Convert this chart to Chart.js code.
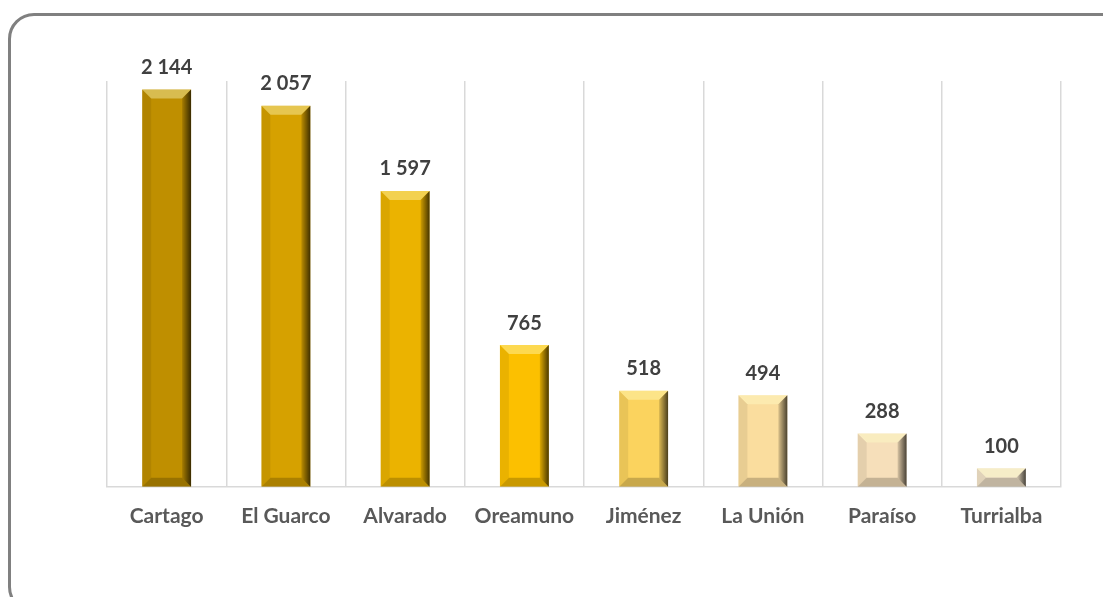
<!DOCTYPE html>
<html>
<head>
<meta charset="utf-8">
<script src="https://cdn.jsdelivr.net/npm/chart.js@4"></script>
<style>
  html, body { margin: 0; padding: 0; background: #fff; }
  #wrap { position: relative; width: 1103px; height: 597px; overflow: hidden; }
  #frame {
    position: absolute; left: 8px; top: 13px; width: 1120px; height: 600px;
    border: 3.5px solid #808080; border-radius: 26px; box-sizing: border-box;
  }
  canvas { position: absolute; left: 0; top: 0; }
</style>
</head>
<body>
<div id="wrap">
  <div id="frame"></div>
  <canvas id="chart" width="1103" height="597"></canvas>
</div>
<script>
// Cantones and counts
const cantones = ["Cartago", "El Guarco", "Alvarado", "Oreamuno", "Jiménez", "La Unión", "Paraíso", "Turrialba"];
const valores = [2144, 2057, 1597, 765, 518, 494, 288, 100];
const colores = ["#BF8F00", "#D6A100", "#EBB300", "#FCC000", "#FBD35E", "#FADD9E", "#F6DFBA", "#F1E2C8"];

// thousands with a space, like "2 144"
function formato(n) {
  return String(n).replace(/\B(?=(\d{3})+(?!\d))/g, " ");
}

// beveled look of the bars + value labels on top
const bisel = {
  id: "bisel",
  afterDatasetsDraw(chart) {
    const ctx = chart.ctx;
    const meta = chart.getDatasetMeta(0);
    meta.data.forEach((bar, i) => {
      const l = bar.x - bar.width / 2, r = bar.x + bar.width / 2;
      const t = bar.y, b = bar.base;
      const s = Math.min(9, (b - t) / 2);
      ctx.save();
      // top face
      ctx.fillStyle = "rgba(255,255,200,0.4)";
      ctx.beginPath();
      ctx.moveTo(l, t); ctx.lineTo(r, t); ctx.lineTo(r - s, t + s); ctx.lineTo(l + s, t + s);
      ctx.closePath(); ctx.fill();
      // left side
      ctx.fillStyle = "rgba(0,0,0,0.07)";
      ctx.beginPath();
      ctx.moveTo(l, t); ctx.lineTo(l + s, t + s); ctx.lineTo(l + s, b - s); ctx.lineTo(l, b);
      ctx.closePath(); ctx.fill();
      // right side
      const g = ctx.createLinearGradient(r - s, 0, r, 0);
      g.addColorStop(0, "rgba(0,0,0,0.12)");
      g.addColorStop(1, "rgba(0,0,0,0.7)");
      ctx.fillStyle = g;
      ctx.beginPath();
      ctx.moveTo(r, t); ctx.lineTo(r - s, t + s); ctx.lineTo(r - s, b - s); ctx.lineTo(r, b);
      ctx.closePath(); ctx.fill();
      // bottom face
      ctx.fillStyle = "rgba(0,0,0,0.2)";
      ctx.beginPath();
      ctx.moveTo(l, b); ctx.lineTo(l + s, b - s); ctx.lineTo(r - s, b - s); ctx.lineTo(r, b);
      ctx.closePath(); ctx.fill();
      // value label
      ctx.fillStyle = "#404040";
      ctx.font = "bold 20px Lato, 'Open Sans', sans-serif";
      ctx.textAlign = "center";
      ctx.textBaseline = "middle";
      ctx.fillText(formato(valores[i]), bar.x, t - 22);
      ctx.restore();
    });
  }
};

new Chart(document.getElementById("chart"), {
  type: "bar",
  data: {
    labels: cantones,
    datasets: [{
      data: valores,
      backgroundColor: colores,
      borderWidth: 0,
      barPercentage: 0.41,
      categoryPercentage: 1
    }]
  },
  options: {
    responsive: false,
    animation: false,
    layout: { padding: { left: 107, right: 42, top: 81, bottom: 51 } },
    plugins: { legend: { display: false }, tooltip: { enabled: false } },
    scales: {
      x: {
        grid: { color: "#D9D9D9", lineWidth: 1.5, drawTicks: false, offset: true },
        border: { color: "#D9D9D9", width: 1.5 },
        ticks: {
          color: "#595959",
          padding: 17,
          font: { family: "Lato, 'Open Sans', sans-serif", size: 21, weight: "bold" }
        }
      },
      y: {
        display: false,
        min: 0,
        max: 2190
      }
    }
  },
  plugins: [bisel]
});
</script>
</body>
</html>
